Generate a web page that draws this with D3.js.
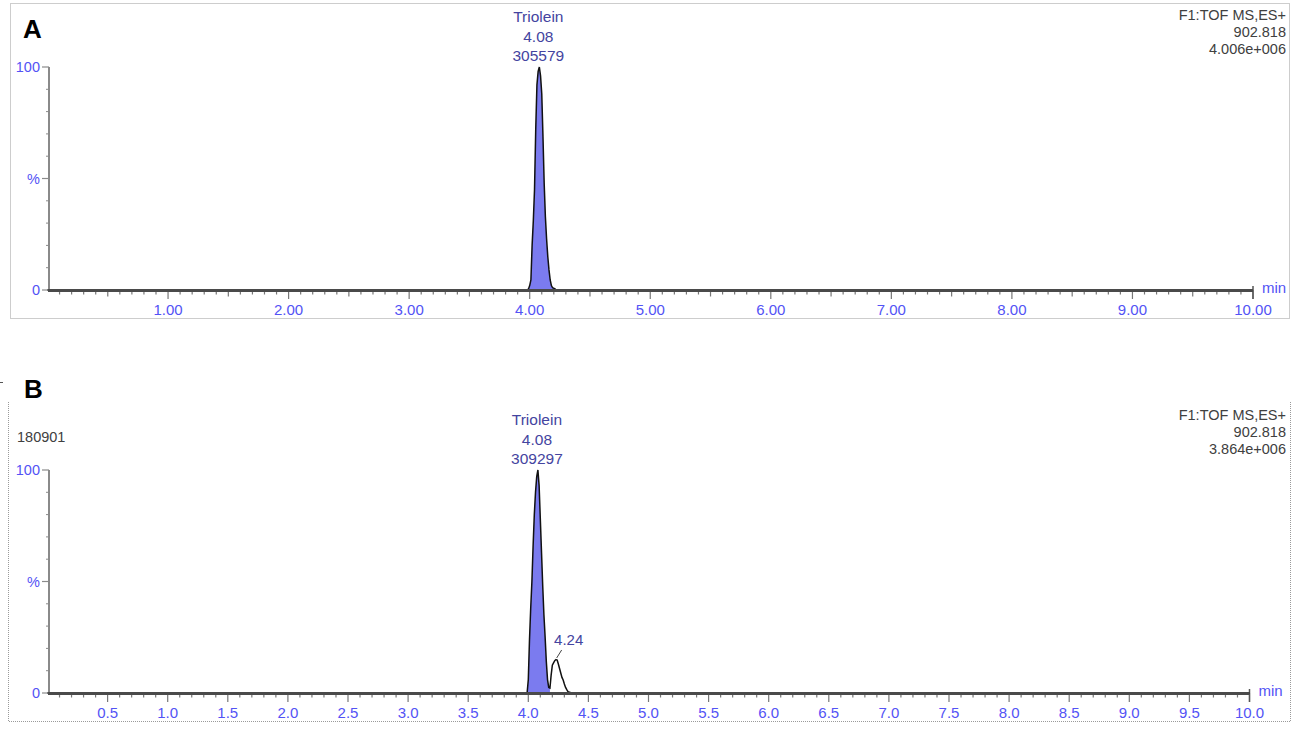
<!DOCTYPE html>
<html><head><meta charset="utf-8">
<script src="https://cdn.jsdelivr.net/npm/d3@7"></script>
<style>
html,body{margin:0;padding:0;background:#fff;}
svg{display:block;font-family:"Liberation Sans",Arial,sans-serif;}
</style></head>
<body>
<svg id="chart" width="1293" height="732"></svg>
<script>
// ---- data ----
const timesA = [0.00, 3.95, 3.98, 3.99, 4.00, 4.01, 4.02, 4.03, 4.04, 4.05, 4.06, 4.07, 4.08, 4.09, 4.10, 4.11, 4.12, 4.13, 4.14, 4.15, 4.16, 4.17, 4.18, 4.19, 4.21, 4.22, 10.00];
const intensA = [0, 0, 0, 0.5, 2, 4.5, 20, 31, 45, 72, 92, 98, 100, 96, 88, 69, 48, 33, 23, 15, 9, 4.5, 2, 1, 0.5, 0, 0];
const timesB = [0.00, 3.95, 3.99, 4.00, 4.01, 4.02, 4.03, 4.04, 4.05, 4.06, 4.07, 4.08, 4.09, 4.10, 4.11, 4.12, 4.13, 4.14, 4.15, 4.16, 4.17, 4.18, 4.19, 4.20, 4.21, 4.22, 4.23, 4.24, 4.25, 4.26, 4.27, 4.28, 4.29, 4.30, 4.31, 4.32, 4.33, 4.36, 10.00];
const intensB = [0, 0, 0, 6, 24, 38, 50, 66, 80, 90, 97, 100, 93, 78, 63, 48, 35, 25, 14, 6, 2.5, 2.2, 8, 12.5, 13.5, 14.5, 15, 14.8, 13, 11, 9, 7, 5.8, 4, 2.5, 1.5, 0.6, 0, 0];
const fillRangeA = [3.98, 4.22];
const fillRangeB = [3.99, 4.18];

const xTickLabelsA = ["1.00","2.00","3.00","4.00","5.00","6.00","7.00","8.00","9.00","10.00"];
const xTickLabelsB = ["0.5","1.0","1.5","2.0","2.5","3.0","3.5","4.0","4.5","5.0","5.5","6.0","6.5","7.0","7.5","8.0","8.5","9.0","9.5","10.0"];
const yTickValues = [0, 50, 100];
const yTickLabels = ["0", "%", "100"];

const panelLetters = ["A", "B"];
const peakNamesA = ["Triolein", "4.08", "305579"];
const peakNamesB = ["Triolein", "4.08", "309297"];
const headerA = ["F1:TOF MS,ES+", "902.818", "4.006e+006"];
const headerB = ["F1:TOF MS,ES+", "902.818", "3.864e+006"];
const secondPeakB = {t: 4.236, v: 14.8, label: "4.24"};
const sampleB = "180901";

// ---- drawing ----
const svg = d3.select("#chart");
const TICK = "#5353f5", ANNOT = "#4444a0", HEAD = "#404040", FILL = "#7b7bef";

// borders
svg.append("rect").attr("x",10.5).attr("y",3.5).attr("width",1279).attr("height",315)
  .attr("fill","none").attr("stroke","#9a9a9a").attr("stroke-dasharray","1,1");
svg.append("path").attr("d","M8.5,402 V721.5 H1290.5 V402")
  .attr("fill","none").attr("stroke","#9a9a9a").attr("stroke-dasharray","1,1");
svg.append("line").attr("x1",0).attr("x2",3).attr("y1",382.5).attr("y2",382.5).attr("stroke","#555");

function panel(cfg){
  const g = svg.append("g");
  const x = d3.scaleLinear().domain([0,10]).range(cfg.xr);
  const y = d3.scaleLinear().domain([0,100]).range(cfg.yr);

  // fill
  const pts = cfg.times.map((t,i)=>[t,cfg.vals[i]]);
  const fillPts = pts.filter(p=>p[0]>=cfg.fill[0] && p[0]<=cfg.fill[1]);
  g.append("path").datum(fillPts)
    .attr("d", d3.area().x(d=>x(d[0])).y0(y(0)).y1(d=>y(d[1])))
    .attr("fill", FILL);

  // y axis
  const yAxisX = cfg.xr[0] + 1.5;
  g.append("line").attr("x1",yAxisX).attr("x2",yAxisX).attr("y1",y(100)).attr("y2",y(0))
    .attr("stroke","#8a8a8a").attr("stroke-width",2);
  const minorY = d3.range(10,100,10).filter(v=>v!==50);
  g.selectAll(".ym").data(minorY).join("line")
    .attr("x1",yAxisX-3).attr("x2",yAxisX).attr("y1",d=>y(d)).attr("y2",d=>y(d))
    .attr("stroke","#8a8a8a").attr("stroke-width",1);
  g.selectAll(".yM").data(yTickValues).join("line")
    .attr("x1",yAxisX-7).attr("x2",yAxisX).attr("y1",d=>y(d)).attr("y2",d=>y(d))
    .attr("stroke","#8a8a8a").attr("stroke-width",1.2);
  g.selectAll(".yl").data(yTickValues).join("text")
    .attr("x",yAxisX-9).attr("y",d=>y(d)).attr("dy","0.35em")
    .attr("text-anchor","end").attr("font-size",14.5).attr("fill",TICK)
    .text((d,i)=>yTickLabels[i]);

  // x ticks
  const minor = d3.range(1,100).map(i=>i/10).concat([10]);
  g.selectAll(".xm").data(minor).join("line")
    .attr("x1",d=>x(d)).attr("x2",d=>x(d))
    .attr("y1",y(0)).attr("y2",d=>{
      const r = Math.round(d*10);
      if (r%10===0) return y(0)+9;
      if (r%5===0) return y(0)+ (cfg.halfMajor?9:6.5);
      return y(0)+4.5;
    })
    .attr("stroke","#777").attr("stroke-width",1.2);
  // end bar
  g.append("line").attr("x1",x(10)).attr("x2",x(10)).attr("y1",y(0)-4).attr("y2",y(0)+9)
    .attr("stroke","#555").attr("stroke-width",1.5);
  g.selectAll(".xl").data(cfg.labels).join("text")
    .attr("x",d=>x(+d)).attr("y",y(0)+20).attr("dy","0.35em")
    .attr("text-anchor","middle").attr("font-size",15).attr("fill",TICK)
    .text(d=>d);
  g.append("text").attr("x",x(10)+9).attr("y",y(0)-2).attr("dy","0.35em")
    .attr("font-size",15).attr("fill",TICK).text("min");

  // trace
  g.append("path").datum(pts)
    .attr("d", d3.line().x(d=>x(d[0])).y(d=>y(d[1])))
    .attr("fill","none").attr("stroke","#111").attr("stroke-width",1.5);

  // x axis line
  g.append("line").attr("x1",yAxisX-1).attr("x2",x(10)).attr("y1",y(0)+0.5).attr("y2",y(0)+0.5)
    .attr("stroke","#4a4a4a").attr("stroke-width",3);

  // peak annotation
  const apexX = x(4.08)-1;
  g.selectAll(".pk").data(cfg.peak).join("text")
    .attr("x",apexX).attr("y",(d,i)=>y(100)-50+i*19.5).attr("dy","0.35em")
    .attr("text-anchor","middle").attr("font-size",15.5).attr("fill",ANNOT).text(d=>d);

  // header
  g.selectAll(".hd").data(cfg.header).join("text")
    .attr("x",1286).attr("y",(d,i)=>cfg.headY+i*17).attr("dy","0.35em")
    .attr("text-anchor","end").attr("font-size",14.5).attr("fill",HEAD)
    .text(d=>d);

  // panel letter
  g.append("text").attr("x",cfg.letterX).attr("y",cfg.letterY).attr("dy","0.35em")
    .attr("font-size",26).attr("font-weight","bold").attr("fill","#000").text(cfg.letter);

  return {g,x,y};
}

panel({xr:[47.5,1253], yr:[290,67], times:timesA, vals:intensA, fill:fillRangeA,
  labels:xTickLabelsA, halfMajor:false, peak:peakNamesA, header:headerA, headY:15,
  letter:panelLetters[0], letterX:23, letterY:29});

const pB = panel({xr:[47.5,1249.5], yr:[693,470], times:timesB, vals:intensB, fill:fillRangeB,
  labels:xTickLabelsB, halfMajor:true, peak:peakNamesB, header:headerB, headY:415,
  letter:panelLetters[1], letterX:24, letterY:389});

// second peak label with leader
const sx = pB.x(secondPeakB.t), sy = pB.y(secondPeakB.v);
pB.g.append("line").attr("x1",sx).attr("y1",sy-2).attr("x2",sx+5).attr("y2",sy-10)
  .attr("stroke","#444").attr("stroke-width",1);
pB.g.append("text").attr("x",sx+12).attr("y",sy-20).attr("dy","0.35em")
  .attr("text-anchor","middle").attr("font-size",15).attr("fill",ANNOT).text(secondPeakB.label);

svg.append("text").attr("x",17).attr("y",437).attr("dy","0.35em")
  .attr("font-size",14.5).attr("fill",HEAD).text(sampleB);
</script>
</body></html>
